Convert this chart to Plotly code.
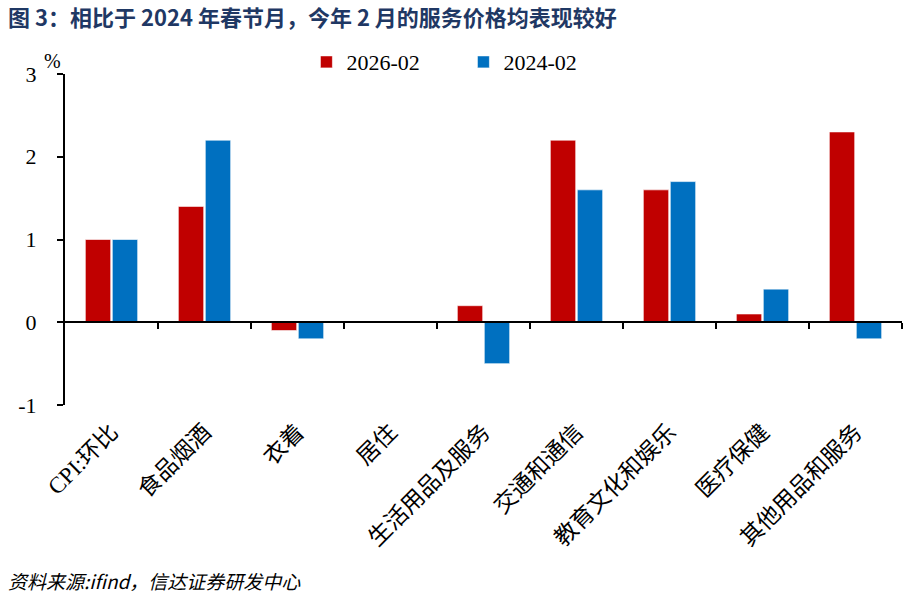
import plotly.graph_objects as go

categories = ["CPI:环比", "食品烟酒", "衣着", "居住", "生活用品及服务",
              "交通和通信", "教育文化和娱乐", "医疗保健", "其他用品和服务"]
series_2026 = [1.0, 1.4, -0.1, 0.0, 0.2, 2.2, 1.6, 0.1, 2.3]
series_2024 = [1.0, 2.2, -0.2, 0.0, -0.5, 1.6, 1.7, 0.4, -0.2]
y_ticks = [-1, 0, 1, 2, 3]
y_tick_text = ["-1", "0", "1", "2", "3"]
boundary_ticks = [i + 0.5 for i in range(len(categories))]

serif = "Liberation Serif, Times New Roman, Noto Sans CJK SC, serif"
cjk = "Liberation Serif, Noto Sans CJK SC, serif"

fig = go.Figure()
fig.add_trace(go.Bar(name="2026-02", x=categories, y=series_2026,
                     marker=dict(color="#C00000", line=dict(color="rgba(255,255,255,0.6)", width=1))))
fig.add_trace(go.Bar(name="2024-02", x=categories, y=series_2024,
                     marker=dict(color="#0070C0", line=dict(color="rgba(255,255,255,0.6)", width=1))))
# invisible trace to host the category-boundary tick axis drawn on the zero line
fig.add_trace(go.Scatter(x=[boundary_ticks[0]], y=[0], xaxis="x2", mode="markers",
                         marker=dict(opacity=0), showlegend=False, hoverinfo="skip"))

fig.update_layout(
    width=906, height=594,
    margin=dict(l=65, r=4, t=74, b=189),
    plot_bgcolor="white", paper_bgcolor="white",
    barmode="group", bargap=0.42, bargroupgap=0.06,
    showlegend=True,
    legend=dict(orientation="h", x=0.476, xanchor="center", y=1.036, yanchor="middle",
                font=dict(family=serif, size=22, color="black"),
                itemwidth=30, traceorder="normal", entrywidthmode="pixels", entrywidth=112),
    xaxis=dict(type="category", range=[-0.5, 8.5], showline=False, ticks="",
               tickangle=-45, tickfont=dict(family=cjk, size=23, color="black"),
               ticklabelstandoff=8,
               showgrid=False, zeroline=False),
    xaxis2=dict(overlaying="x", anchor="free", position=0.25, range=[-0.5, 8.5],
                tickvals=boundary_ticks, ticks="outside", ticklen=6, tickwidth=2,
                tickcolor="black", showticklabels=False, showline=True,
                linecolor="black", linewidth=2, showgrid=False, zeroline=False),
    yaxis=dict(range=[-1, 3], tickvals=y_ticks, ticktext=y_tick_text,
               ticks="outside", ticklen=6, tickwidth=2, ticklabelstandoff=16,
               tickcolor="black", showline=True, linecolor="black", linewidth=2,
               showgrid=False, zeroline=False,
               tickfont=dict(family=serif, size=22, color="black")),
    font=dict(family=cjk),
)

fig.add_annotation(text="%", xref="paper", yref="paper", x=-0.016, xshift=-10, y=1.0, yshift=26,
                   showarrow=False, font=dict(family=serif, size=20, color="black"))
fig.add_annotation(text="<b>图 3：相比于 2024 年春节月，今年 2 月的服务价格均表现较好</b>",
                   xref="paper", yref="paper", x=-65/837, xshift=6, y=1.0, yshift=74 - 16,
                   xanchor="left", yanchor="middle", showarrow=False,
                   font=dict(family="Noto Sans CJK SC, sans-serif", size=22, color="#1F3864"))
fig.add_annotation(text="<i>资料来源:ifind，信达证券研发中心</i>",
                   xref="paper", yref="paper", x=-65/837, xshift=6, y=0, yshift=-(580 - 405),
                   xanchor="left", yanchor="middle", showarrow=False,
                   font=dict(family="Noto Sans CJK SC, sans-serif", size=19, color="black"))

fig.write_html("out.html", config={"displayModeBar": False},
               post_script="document.body.style.margin='0px';")
